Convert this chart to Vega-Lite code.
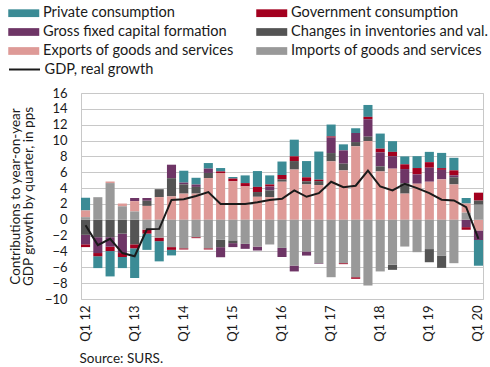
{
  "$schema": "https://vega.github.io/schema/vega-lite/v6.json",
  "width": 402,
  "height": 206,
  "autosize": {"type": "none"},
  "padding": {"left": 81, "top": 93, "right": 7, "bottom": 68},
  "background": "white",
  "config": {
    "font": "Lato",
    "view": {"stroke": "#c8c8c8", "strokeWidth": 1},
    "axis": {"labelColor": "#1a1a1a", "titleColor": "#1a1a1a", "labelFont": "Lato", "titleFont": "Lato"},
    "axisY": {"labelOverlap": false, "labelFontSize": 13, "tickCount": 30},
    "legend": {"labelColor": "#1a1a1a", "labelFont": "Lato"}
  },
  "data": {
    "values": [
      {"q": "Q1 12", "f_pc": 1.6, "e_gov": -0.35, "d_gfcf": -1.2, "c_inv": -1.9, "b_exp": 0.85, "a_imp": 0.33, "gdp": -0.7},
      {"q": "Q2 12", "f_pc": -1.5, "e_gov": -0.4, "d_gfcf": -2.0, "c_inv": -2.2, "b_exp": 0, "a_imp": 2.85, "gdp": -3.2},
      {"q": "Q3 12", "f_pc": -3.2, "e_gov": -0.55, "d_gfcf": -1.2, "c_inv": -2.2, "b_exp": 0.2, "a_imp": 4.63, "gdp": -2.4},
      {"q": "Q4 12", "f_pc": -1.4, "e_gov": -0.5, "d_gfcf": -2.45, "c_inv": -1.75, "b_exp": 0.35, "a_imp": 1.7, "gdp": -4.2},
      {"q": "Q1 13", "f_pc": -3.75, "e_gov": -0.5, "d_gfcf": 0.4, "c_inv": -3.1, "b_exp": 1.3, "a_imp": 1.05, "gdp": -4.6},
      {"q": "Q2 13", "f_pc": -2.05, "e_gov": -0.5, "d_gfcf": 0.35, "c_inv": 0.65, "b_exp": 1.75, "a_imp": -1.25, "gdp": -1.2},
      {"q": "Q3 13", "f_pc": -2.55, "e_gov": -0.45, "d_gfcf": 0, "c_inv": 1.0, "b_exp": 2.86, "a_imp": -2.25, "gdp": -1.15},
      {"q": "Q4 13", "f_pc": -0.7, "e_gov": -0.35, "d_gfcf": 1.7, "c_inv": 2.3, "b_exp": 2.95, "a_imp": -3.45, "gdp": 2.5},
      {"q": "Q1 14", "f_pc": 1.5, "e_gov": -0.15, "d_gfcf": 0.22, "c_inv": 1.17, "b_exp": 3.3, "a_imp": -3.6, "gdp": 2.6},
      {"q": "Q2 14", "f_pc": 0.85, "e_gov": -0.12, "d_gfcf": 0.3, "c_inv": 0.85, "b_exp": 3.3, "a_imp": -2.2, "gdp": 3.0},
      {"q": "Q3 14", "f_pc": 0.7, "e_gov": -0.15, "d_gfcf": 0.55, "c_inv": 0.65, "b_exp": 5.26, "a_imp": -3.6, "gdp": 3.5},
      {"q": "Q4 14", "f_pc": 0.43, "e_gov": 0.2, "d_gfcf": -1.27, "c_inv": -0.93, "b_exp": 5.9, "a_imp": -2.53, "gdp": 2.0},
      {"q": "Q1 15", "f_pc": 0.2, "e_gov": 0.35, "d_gfcf": -0.5, "c_inv": -0.35, "b_exp": 4.85, "a_imp": -2.6, "gdp": 2.0},
      {"q": "Q2 15", "f_pc": 0.97, "e_gov": 0.42, "d_gfcf": -0.63, "c_inv": 0, "b_exp": 4.21, "a_imp": -3.04, "gdp": 2.0},
      {"q": "Q3 15", "f_pc": 2.0, "e_gov": 0.65, "d_gfcf": -0.5, "c_inv": 0.6, "b_exp": 2.9, "a_imp": -3.38, "gdp": 2.2},
      {"q": "Q4 15", "f_pc": 1.14, "e_gov": 0.25, "d_gfcf": 0.5, "c_inv": 0.85, "b_exp": 2.86, "a_imp": -3.12, "gdp": 2.5},
      {"q": "Q1 16", "f_pc": 1.7, "e_gov": 0.55, "d_gfcf": -1.15, "c_inv": 0.3, "b_exp": 4.8, "a_imp": -3.55, "gdp": 2.65},
      {"q": "Q2 16", "f_pc": 2.1, "e_gov": 0.6, "d_gfcf": -0.74, "c_inv": 1.07, "b_exp": 6.34, "a_imp": -5.78, "gdp": 3.7},
      {"q": "Q3 16", "f_pc": 2.05, "e_gov": 0.5, "d_gfcf": -0.52, "c_inv": 0.4, "b_exp": 4.46, "a_imp": -4.0, "gdp": 2.9},
      {"q": "Q4 16", "f_pc": 3.55, "e_gov": 0.18, "d_gfcf": -0.08, "c_inv": 0.5, "b_exp": 4.38, "a_imp": -5.48, "gdp": 3.35},
      {"q": "Q1 17", "f_pc": 1.5, "e_gov": 0.15, "d_gfcf": 1.95, "c_inv": 1.05, "b_exp": 7.37, "a_imp": -7.25, "gdp": 4.8},
      {"q": "Q2 17", "f_pc": 0.76, "e_gov": -0.12, "d_gfcf": 1.68, "c_inv": 0.85, "b_exp": 6.23, "a_imp": -5.48, "gdp": 4.1},
      {"q": "Q3 17", "f_pc": 0.6, "e_gov": -0.2, "d_gfcf": 1.14, "c_inv": 0.54, "b_exp": 9.27, "a_imp": -7.25, "gdp": 4.3},
      {"q": "Q4 17", "f_pc": 1.5, "e_gov": 0.3, "d_gfcf": 2.2, "c_inv": 0.55, "b_exp": 9.94, "a_imp": -8.3, "gdp": 6.2},
      {"q": "Q1 18", "f_pc": 1.9, "e_gov": 0.47, "d_gfcf": 1.77, "c_inv": 0.64, "b_exp": 6.1, "a_imp": -6.52, "gdp": 4.2},
      {"q": "Q2 18", "f_pc": 1.35, "e_gov": 0.55, "d_gfcf": 1.57, "c_inv": -0.65, "b_exp": 6.45, "a_imp": -5.67, "gdp": 3.7},
      {"q": "Q3 18", "f_pc": 1.0, "e_gov": 0.6, "d_gfcf": 1.8, "c_inv": 1.3, "b_exp": 3.3, "a_imp": -3.38, "gdp": 4.55},
      {"q": "Q4 18", "f_pc": 1.5, "e_gov": 0.8, "d_gfcf": 1.18, "c_inv": 0, "b_exp": 4.55, "a_imp": -4.09, "gdp": 4.0},
      {"q": "Q1 19", "f_pc": 1.3, "e_gov": 0.7, "d_gfcf": 1.77, "c_inv": -1.66, "b_exp": 4.8, "a_imp": -3.7, "gdp": 3.37},
      {"q": "Q2 19", "f_pc": 1.92, "e_gov": 0.22, "d_gfcf": 1.2, "c_inv": -1.56, "b_exp": 5.1, "a_imp": -4.51, "gdp": 2.53},
      {"q": "Q3 19", "f_pc": 1.58, "e_gov": 0.63, "d_gfcf": 0.25, "c_inv": 0.9, "b_exp": 4.46, "a_imp": -5.48, "gdp": 2.44},
      {"q": "Q4 19", "f_pc": 0.7, "e_gov": -0.33, "d_gfcf": -0.93, "c_inv": 0, "b_exp": 1.15, "a_imp": 0.9, "gdp": 1.6},
      {"q": "Q1 20", "f_pc": -3.25, "e_gov": 1.0, "d_gfcf": -1.2, "c_inv": 0.52, "b_exp": -1.35, "a_imp": 1.9, "gdp": -2.4}
    ]
  },
  "layer": [
    {
      "transform": [{"fold": ["f_pc", "e_gov", "d_gfcf", "c_inv", "b_exp", "a_imp"], "as": ["series", "value"]}],
      "mark": {"type": "bar"},
      "encoding": {
        "x": {
          "field": "q", "type": "ordinal", "sort": null,
          "scale": {"paddingInner": 0.26, "paddingOuter": 0},
          "axis": {
            "values": ["Q1 12", "Q1 13", "Q1 14", "Q1 15", "Q1 16", "Q1 17", "Q1 18", "Q1 19", "Q1 20"],
            "labelAngle": -90, "labelFontSize": 13, "labelPadding": 6, "ticks": false, "domain": false, "grid": false,
            "title": "Source: SURS.", "titleFontSize": 13.5, "titleFontWeight": "normal",
            "titleAnchor": "start", "titleAlign": "left", "titleBaseline": "top", "titleX": -2, "titleY": 52
          }
        },
        "y": {
          "field": "value", "type": "quantitative", "stack": "zero",
          "scale": {"domain": [-10, 16], "nice": false},
          "axis": {
            "values": [-10, -8, -6, -4, -2, 0, 2, 4, 6, 8, 10, 12, 14, 16],
            "tickCount": 30,
            "labelOverlap": false, "labelFontSize": 13, "labelPadding": 14, "ticks": false, "domain": false,
            "grid": true, "gridColor": "#c8c8c8", "gridWidth": 1,
            "title": ["Contributions to year-on-year", "GDP growth by quarter, in pps"],
            "titleFontSize": 13.5, "titleFontWeight": "normal", "titleBaseline": "top",
            "titleX": -73, "titleLineHeight": 13
          }
        },
        "color": {
          "field": "series", "type": "nominal",
          "scale": {
            "domain": ["f_pc", "d_gfcf", "b_exp", "e_gov", "c_inv", "a_imp"],
            "range": ["#3b8b95", "#6e3566", "#de9a97", "#a3001f", "#545454", "#999999"]
          },
          "legend": {
            "orient": "none", "legendX": -73, "legendY": -88, "columns": 2, "title": null,
            "symbolType": "M-1,-0.5H3V0.5H-1Z", "symbolSize": 240, "symbolStrokeWidth": 0,
            "labelFontSize": 14.6, "labelOffset": 19, "rowPadding": 4, "columnPadding": 22,
            "labelLimit": 300,
            "labelExpr": "datum.value == 'f_pc' ? 'Private consumption' : datum.value == 'e_gov' ? 'Government consumption' : datum.value == 'd_gfcf' ? 'Gross fixed capital formation' : datum.value == 'c_inv' ? 'Changes in inventories and val.' : datum.value == 'b_exp' ? 'Exports of goods and services' : 'Imports of goods and services'"
          }
        },
        "order": {"field": "series", "sort": "ascending"}
      }
    },
    {
      "mark": {"type": "line", "strokeWidth": 2},
      "encoding": {
        "x": {"field": "q", "type": "ordinal", "sort": null},
        "y": {"field": "gdp", "type": "quantitative", "axis": {"labelOverlap": false, "tickCount": 30}},
        "stroke": {
          "datum": "GDP, real growth", "type": "nominal",
          "scale": {"range": ["#1a1a1a"]},
          "legend": {
            "orient": "none", "legendX": -73, "legendY": -40, "title": null,
            "symbolType": "stroke", "symbolSize": 961, "symbolStrokeWidth": 2,
            "labelFontSize": 14.6, "labelOffset": 3.5
          }
        }
      }
    }
  ]
}
